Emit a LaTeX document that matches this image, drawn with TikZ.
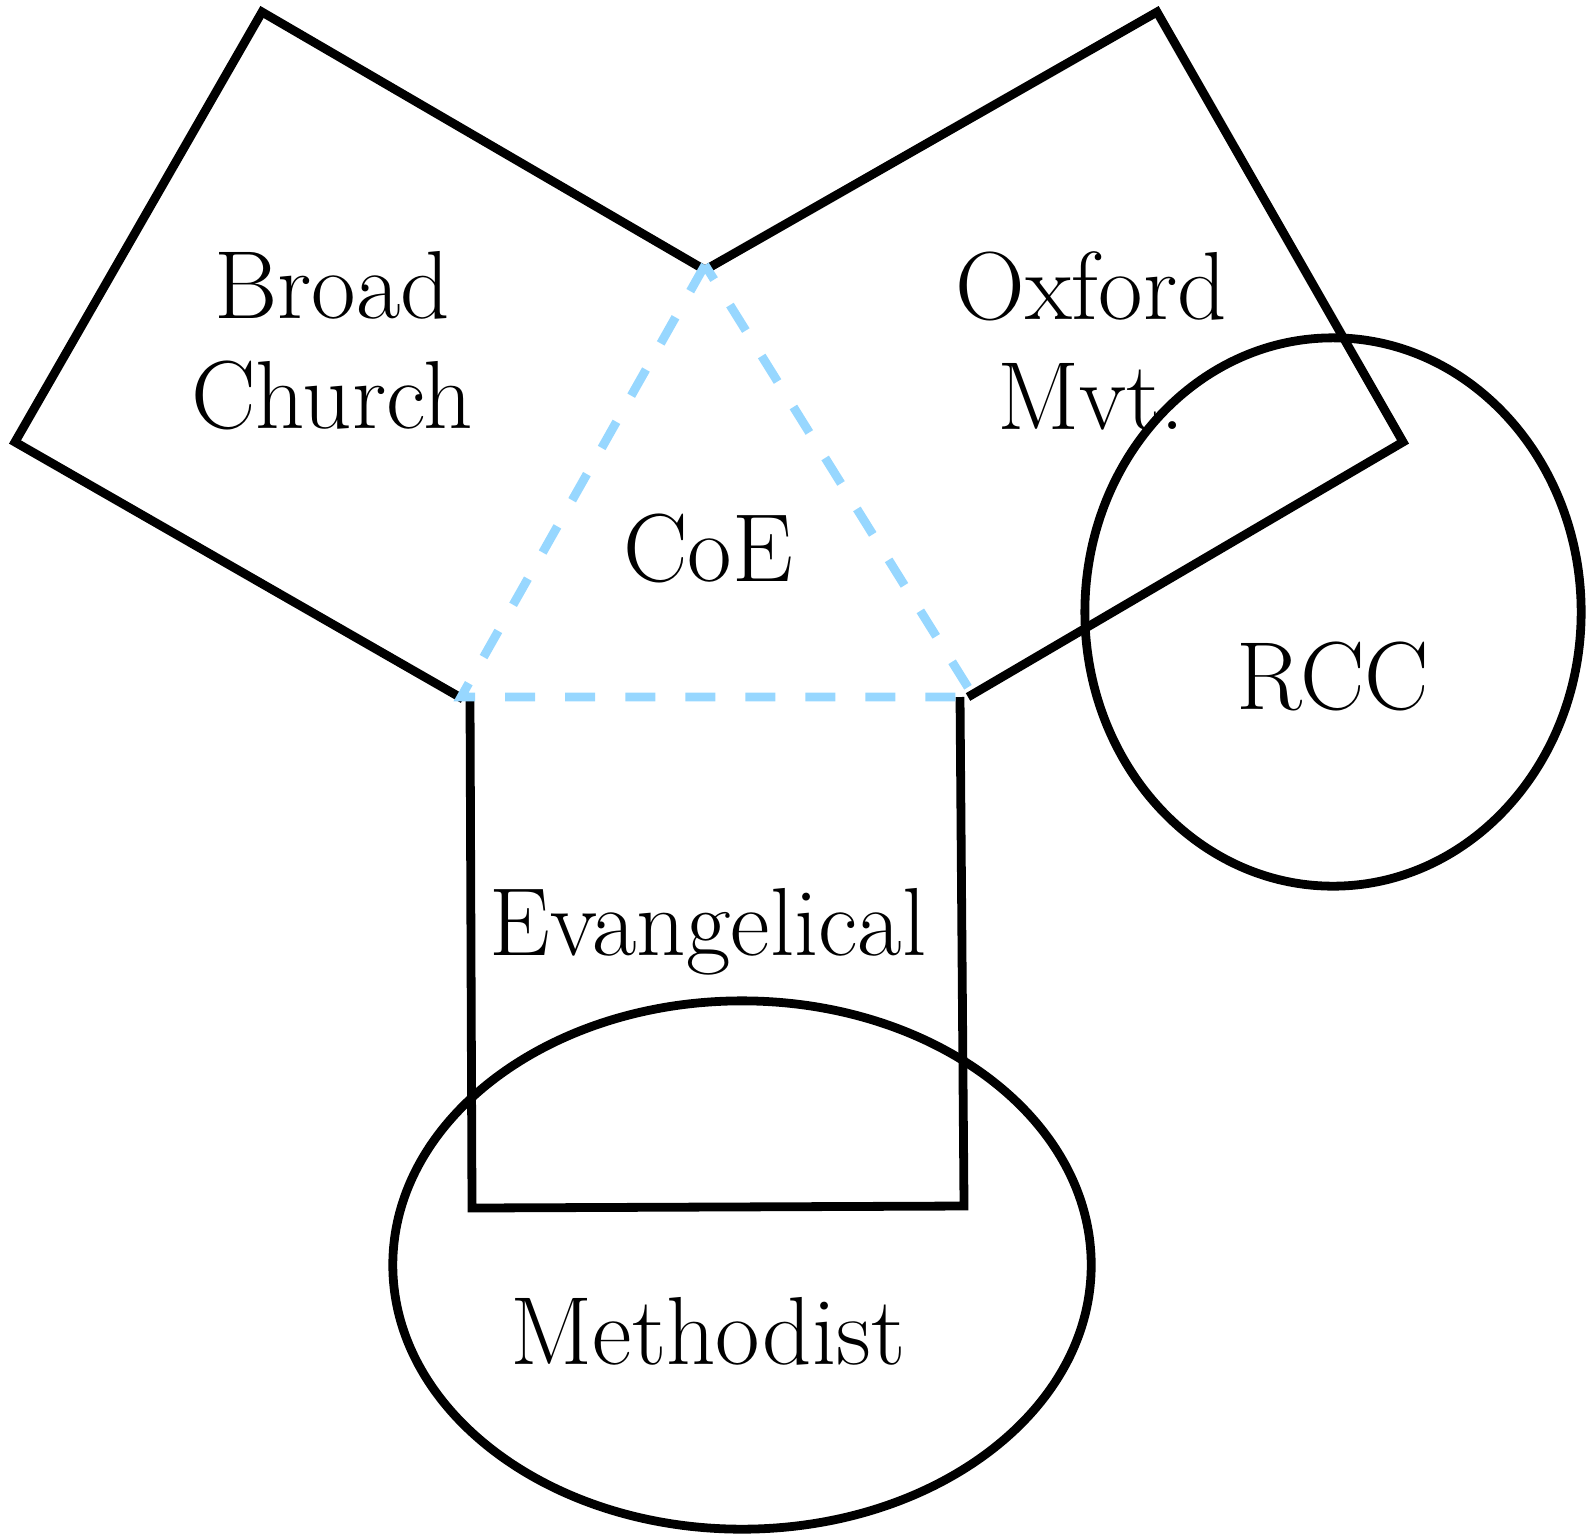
\documentclass[tikz,border=0pt]{standalone}
\usepackage{xcolor}
\definecolor{coeblue}{RGB}{151,215,255}
\tikzset{
  outline/.style={black, line width=2.5pt, line join=miter},
  coeline/.style={coeblue, line width=2.5pt, dash pattern=on 0.3cm off 0.3cm},
  lbl/.style={font=\fontsize{27.5}{31.2}\selectfont, align=center, inner sep=0pt},
}
\begin{document}
\begin{tikzpicture}[x=0.01cm, y=-0.01cm]
        \useasboundingbox (0,0) rectangle (1592,1533);
        \coordinate (apex) at (705,270);
        \coordinate (bl) at (463,699);
        \coordinate (br) at (968,697);

        \draw[outline] (apex) -- (262,12) -- (15,442) -- (bl);
        \draw[outline] (apex) -- (1157,12) -- (1403,442) -- (br);
        \draw[outline] (470,699) -- (472,1208) -- (964,1206) -- (960,697);
        \draw[outline] (1333,612) ellipse [x radius=2.48cm, y radius=2.74cm];
        \draw[outline] (742,1265) ellipse [x radius=3.49cm, y radius=2.64cm];

        \draw[coeline] (705,265) -- (461,697) -- (974,697) -- cycle;

        \node[lbl] (broad) at (332,341) {Broad\\Church};
        \node[lbl] (oxford) at (1091,341) {Oxford\\Mvt.};
        \node[lbl] (coe) at (708,548) {CoE};
        \node[lbl] (rcc) at (1333,676) {RCC};
        \node[lbl] (evang) at (708,932) {Evangelical};
        \node[lbl] (meth) at (708,1331) {Methodist};
    \end{tikzpicture}
\end{document}
